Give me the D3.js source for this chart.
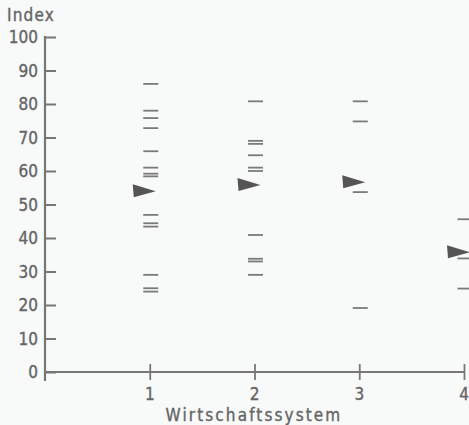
<!DOCTYPE html>
<html><head><meta charset="utf-8">
<script src="https://cdn.jsdelivr.net/npm/d3@7"></script>
<style>
html,body{margin:0;padding:0;background:#f8f9f9;}
svg{display:block;}
text{font-family:"DejaVu Sans Condensed","DejaVu Sans",sans-serif;fill:#656565;stroke:#656565;stroke-width:0.35px;}
</style></head>
<body>
<script>
const categories = [1, 2, 3, 4];
const yTicks = [0, 10, 20, 30, 40, 50, 60, 70, 80, 90, 100];
const dashes1 = [86, 78, 75.8, 72.8, 65.9, 61, 59.2, 58.4, 46.9, 44.4, 43.4, 29, 25, 24];
const dashes2 = [80.8, 69, 68.1, 64.7, 61, 60, 40.9, 33.8, 33, 29];
const dashes3 = [80.8, 74.8, 53.7, 19.1];
const dashes4 = [45.6, 33.9, 24.9];
const means = [54.1, 56.0, 56.8, 35.9];
const yLabel = "Index";
const xLabel = "Wirtschaftssystem";

const W = 469, H = 425;
const svg = d3.select("body").append("svg").attr("width", W).attr("height", H);
const x = d3.scaleLinear().domain([0, 4]).range([45, 464]);
const y = d3.scaleLinear().domain([0, 100]).range([372, 37]);
const axisColor = "#777";

// y axis
const ya = svg.append("g").attr("transform", `translate(${x(0)},0)`)
  .call(d3.axisRight(y).tickValues(yTicks).tickSize(11).tickFormat(""));
ya.select(".domain").remove();
ya.selectAll("line").attr("stroke", axisColor).attr("stroke-width", 2);
svg.append("line").attr("x1", x(0)).attr("x2", x(0)).attr("y1", y(100) - 1).attr("y2", y(0) + 9)
  .attr("stroke", axisColor).attr("stroke-width", 2.2);
svg.selectAll("text.ytl").data(yTicks).join("text").attr("class", "ytl")
  .attr("x", 38).attr("y", d => y(d) + 6).attr("text-anchor", "end")
  .attr("font-size", 17).text(d => d);

// x axis
svg.append("line").attr("x1", x(0)).attr("x2", x(4)).attr("y1", y(0)).attr("y2", y(0))
  .attr("stroke", axisColor).attr("stroke-width", 2.2);
const xa = svg.append("g").attr("transform", `translate(0,${y(0) - 8})`)
  .call(d3.axisBottom(x).tickValues(categories).tickSize(16).tickFormat(""));
xa.select(".domain").remove();
xa.selectAll("line").attr("stroke", axisColor).attr("stroke-width", 1.8);
svg.selectAll("text.xtl").data(categories).join("text").attr("class", "xtl")
  .attr("x", d => x(d)).attr("y", 400).attr("text-anchor", "middle")
  .attr("font-size", 17).text(d => d);

svg.append("text").attr("x", 7).attr("y", 21).attr("font-size", 17)
  .attr("letter-spacing", 1.2).text(yLabel);
svg.append("text").attr("x", 254).attr("y", 421).attr("font-size", 17)
  .attr("text-anchor", "middle").attr("letter-spacing", 2.1).text(xLabel);

// dashes
const allDashes = [dashes1, dashes2, dashes3, dashes4];
allDashes.forEach((arr, i) => {
  const cx = x(categories[i]) + 1;
  svg.append("g").selectAll("line").data(arr).join("line")
    .attr("x1", cx - 7.5).attr("x2", cx + 7.5)
    .attr("y1", d => y(d)).attr("y2", d => y(d))
    .attr("stroke", "#7a7a7a").attr("stroke-width", 1.8);
});

// mean arrows
svg.append("g").selectAll("path").data(means).join("path")
  .attr("d", (d, i) => {
    const cx = x(categories[i]), cy = y(d);
    return `M${cx - 17},${cy - 6.5} L${cx + 6},${cy + 0.5} L${cx - 16},${cy + 6.5} Z`;
  })
  .attr("fill", "#555");
</script>
</body></html>
